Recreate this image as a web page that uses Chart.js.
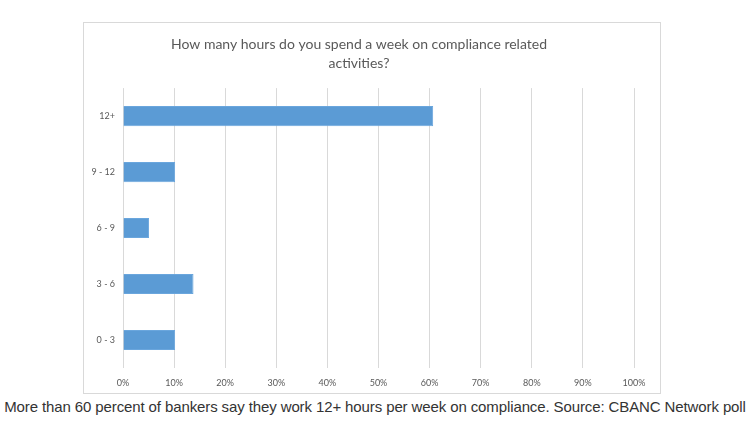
<!DOCTYPE html>
<html>
<head>
<meta charset="utf-8">
<script src="https://cdn.jsdelivr.net/npm/chart.js@4/dist/chart.umd.min.js"></script>
<style>
  html, body { margin: 0; padding: 0; background: #fff; width: 750px; height: 423px; overflow: hidden; }
  #box { position: absolute; left: 83px; top: 22px; width: 576px; height: 370px; border: 1px solid #d9d9d9; }
  #caption { position: absolute; left: 0; top: 398px; width: 750px; text-align: center; font-family: "Liberation Sans", Arial, sans-serif; font-size: 15px; letter-spacing: -0.11px; color: #333; white-space: nowrap; }
</style>
</head>
<body>
<div id="box"><canvas id="c" width="576" height="370"></canvas></div>
<div id="caption">More than 60 percent of bankers say they work 12+ hours per week on compliance. Source: CBANC Network poll</div>
<script>
const titleLines = ["How many hours do you spend a week on compliance related", "activities?"];
const categories = ["12+", "9 - 12", "6 - 9", "3 - 6", "0 - 3"];
const values = [60.7, 10.2, 5.1, 13.8, 10.2];
const xTicks = [0, 10, 20, 30, 40, 50, 60, 70, 80, 90, 100];

new Chart(document.getElementById('c'), {
  type: 'bar',
  data: {
    labels: categories,
    datasets: [{
      data: values,
      backgroundColor: '#5b9bd5',
      borderColor: '#6aa6dd',
      borderWidth: 1,
      barPercentage: 0.36,
      categoryPercentage: 1
    }]
  },
  options: {
    indexAxis: 'y',
    responsive: false,
    animation: false,
    layout: { padding: { left: 0, right: 26, top: 0, bottom: 0 } },
    plugins: {
      legend: { display: false },
      tooltip: { enabled: false },
      title: {
        display: true,
        text: titleLines,
        color: '#595959',
        font: { family: 'Lato, "Open Sans", sans-serif', size: 14, weight: 'normal', lineHeight: 1.36 },
        padding: { top: 12, bottom: 15 }
      }
    },
    scales: {
      x: {
        min: 0, max: 100,
        afterBuildTicks: (axis) => { axis.ticks = xTicks.map(v => ({ value: v })); },
        afterFit: (axis) => { axis.height = 25; },
        grid: { color: '#d9d9d9', drawTicks: false, lineWidth: 1 },
        border: { display: false },
        ticks: {
          color: '#595959',
          font: { family: 'Lato, "Open Sans", sans-serif', size: 9 },
          padding: 10,
          callback: (v) => v + '%'
        }
      },
      y: {
        afterFit: (axis) => { axis.width = 39; },
        grid: { display: false, drawTicks: false },
        border: { display: false },
        ticks: {
          color: '#595959',
          font: { family: 'Lato, "Open Sans", sans-serif', size: 9 },
          padding: 8
        }
      }
    }
  }
});
</script>
</body>
</html>
